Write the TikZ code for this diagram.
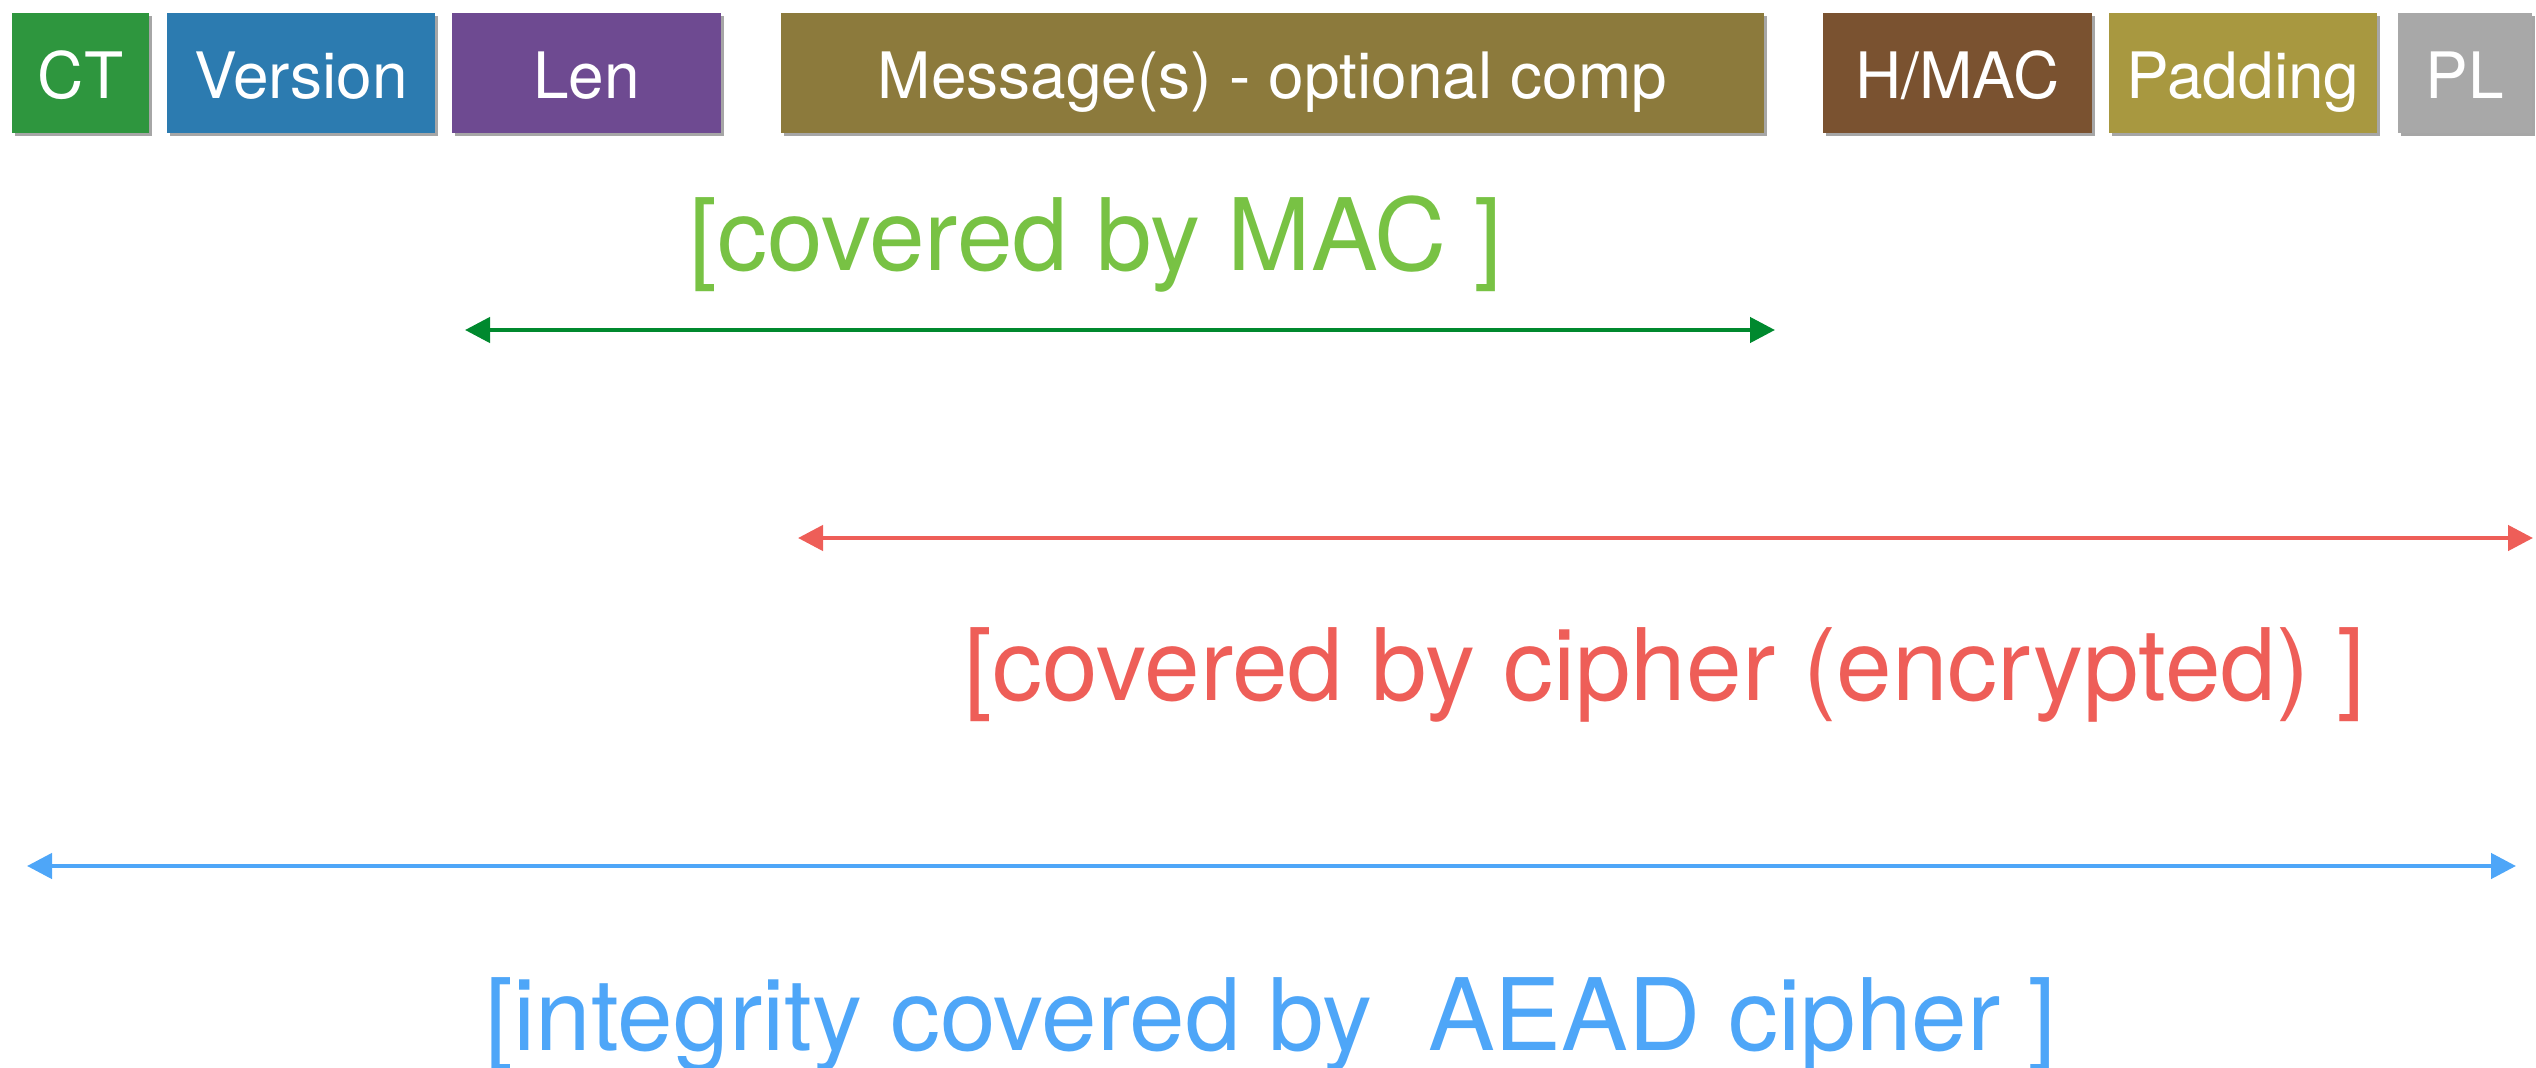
\documentclass[tikz,border=0pt]{standalone}
\usepackage{fontspec}
\setmainfont{TeX Gyre Heros}
\usetikzlibrary{arrows.meta,shadows}

% field colours
\definecolor{ctgreen}{RGB}{46,150,62}
\definecolor{verblue}{RGB}{44,123,176}
\definecolor{lenpurple}{RGB}{110,74,145}
\definecolor{msgolive}{RGB}{140,122,60}
\definecolor{macbrown}{RGB}{122,82,48}
\definecolor{padgold}{RGB}{168,152,64}
\definecolor{plgray}{RGB}{168,168,168}
% span colours
\definecolor{macarrow}{RGB}{0,137,46}
\definecolor{maclabel}{RGB}{120,194,68}
\definecolor{ciphred}{RGB}{238,94,88}
\definecolor{aeadblue}{RGB}{78,166,248}

\tikzset{
  field/.style={anchor=center, minimum height=120pt, inner sep=0pt,
    text=white, text height=50pt, text depth=0pt,
    font=\fontsize{64}{70}\selectfont,
    drop shadow={shadow xshift=3pt, shadow yshift=-3pt, opacity=0.35, fill=black}},
  span/.style={line width=4.5pt, {Triangle[length=25pt,width=25pt]}-{Triangle[length=25pt,width=25pt]}},
  spanlabel/.style={anchor=base, inner sep=0pt, font=\fontsize{100}{112}\selectfont}
}

\begin{document}
\begin{tikzpicture}[x=1pt,y=-1pt]
\useasboundingbox (0,0) rectangle (2536,1068);
\clip (0,0) rectangle (2536,1068);

% record fields
\node[field, fill=ctgreen,   minimum width=137pt] (ct)   at (80.5,73)  {CT};
\node[field, fill=verblue,   minimum width=268pt] (ver)  at (301,73)   {Version};
\node[field, fill=lenpurple, minimum width=269pt] (len)  at (586.5,73) {Len};
\node[field, fill=msgolive,  minimum width=983pt] (msg)  at (1272.5,73) {Message(s) - optional comp};
\node[field, fill=macbrown,  minimum width=269pt] (hmac) at (1957.5,73) {H/MAC};
\node[field, fill=padgold,   minimum width=268pt] (pad)  at (2243,73)  {Padding};
\node[field, fill=plgray,    minimum width=134pt] (pl)   at (2465,73)  {PL};

% span end points
\coordinate (macL) at (465,330);
\coordinate (macR) at (1775,330);
\coordinate (encL) at (798,538);
\coordinate (encR) at (2533,538);
\coordinate (aeadL) at (27,866);
\coordinate (aeadR) at (2516,866);

% spans
\draw[span, macarrow] (macL) -- (macR);
\draw[span, ciphred] (encL) -- (encR);
\draw[span, aeadblue] (aeadL) -- (aeadR);

% span labels
\node[spanlabel, text=maclabel] (maclbl) at (1096,270) {[covered by MAC ]};
\node[spanlabel, text=ciphred] (enclbl) at (1665,700) {[covered by cipher (encrypted) ]};
\node[spanlabel, text=aeadblue] (aeadlbl) at (1271,1050) {[integrity covered by\ \ AEAD cipher ]};
\end{tikzpicture}
\end{document}
